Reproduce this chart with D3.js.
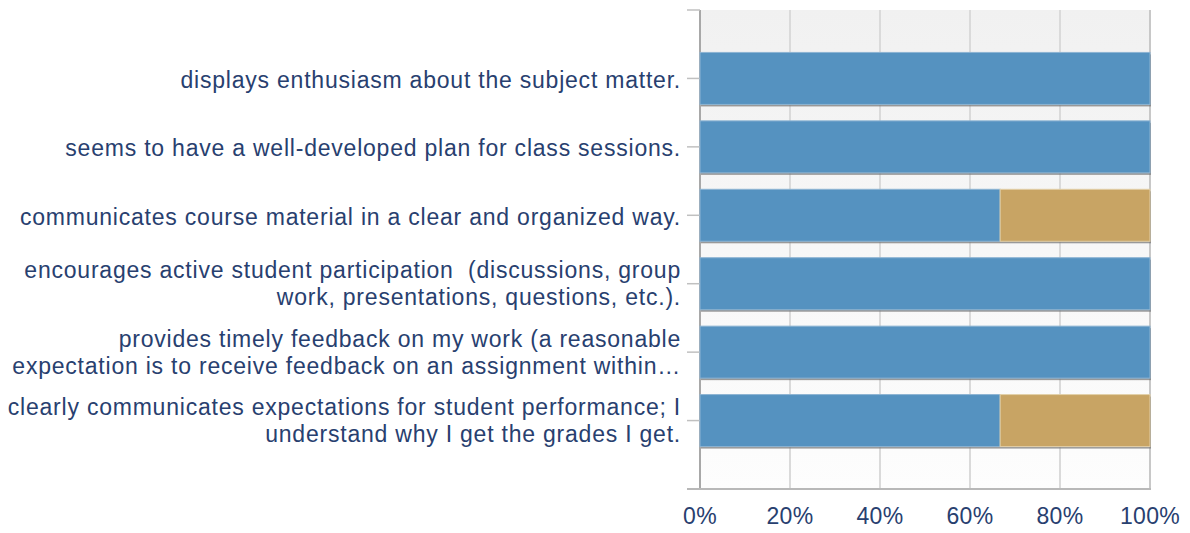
<!DOCTYPE html>
<html>
<head>
<meta charset="utf-8">
<script src="https://cdn.jsdelivr.net/npm/d3@7"></script>
<style>
  body { margin: 0; background: #fff; }
  #viz { width: 1190px; height: 533px; }
  text { font-family: "Liberation Sans", Arial, sans-serif; white-space: pre; }
</style>
</head>
<body>
<div id="viz"></div>
<script>
//Datos
const categories = [
    ['displays enthusiasm about the subject matter.'],
    ['seems to have a well-developed plan for class sessions.'],
    ['communicates course material in a clear and organized way.'],
    ['encourages active student participation  (discussions, group', 'work, presentations, questions, etc.).'],
    ['provides timely feedback on my work (a reasonable', 'expectation is to receive feedback on an assignment within\u2026'],
    ['clearly communicates expectations for student performance; I', 'understand why I get the grades I get.']
];
const seriesA = [100, 100, 66.7, 100, 100, 66.7];
const seriesB = [0, 0, 33.3, 0, 0, 33.3];
const tickValues = [0, 20, 40, 60, 80, 100];

//Colores
const COLOR_A = '#5592c0', COLOR_B = '#c8a464', COLOR_TEXT = '#28406f';

let margin = {top: 10, right: 40, bottom: 44, left: 700},
    width = 1190 - margin.left - margin.right,
    height = 533 - margin.top - margin.bottom;

let svg = d3.select('#viz').append('svg')
    .attr('width', 1190).attr('height', 533)
  .append('g')
    .attr('transform', 'translate(' + margin.left + ',' + margin.top + ')');

let x = d3.scaleLinear().domain([0, 100]).range([0, width]);
// puntos: un hueco arriba y otro abajo
let y = d3.scalePoint().domain(d3.range(-1, categories.length + 1)).range([0, height]);
let step = y.step(), barH = step * 0.76;

let defs = svg.append('defs');
let grad = defs.append('linearGradient').attr('id', 'bg').attr('x1', 0).attr('x2', 0).attr('y1', 0).attr('y2', 1);
grad.append('stop').attr('offset', '0%').attr('stop-color', '#f1f1f1');
grad.append('stop').attr('offset', '100%').attr('stop-color', '#fdfdfd');

svg.append('rect').attr('width', width).attr('height', height).attr('fill', 'url(#bg)');

//Grid
svg.selectAll('.grid').data(tickValues).enter().append('line')
    .attr('x1', d => x(d)).attr('x2', d => x(d))
    .attr('y1', 0).attr('y2', height)
    .attr('stroke', d => d == 0 ? '#a8a8a8' : (d == 100 ? '#c8c8c8' : '#dadada'))
    .attr('stroke-width', 2);

//Eje Y ticks
svg.selectAll('.ytick').data(y.domain()).enter().append('line')
    .attr('x1', -13).attr('x2', 0)
    .attr('y1', d => y(d)).attr('y2', d => y(d))
    .attr('stroke', '#c0c0c0').attr('stroke-width', 1.5);

//Eje X
svg.append('line').attr('x1', -13).attr('x2', width + 1)
    .attr('y1', height).attr('y2', height)
    .attr('stroke', '#b8b8b8').attr('stroke-width', 2);

svg.append('g').selectAll('text').data(tickValues).enter().append('text')
    .attr('x', d => x(d)).attr('y', height + 35)
    .attr('text-anchor', 'middle')
    .attr('fill', COLOR_TEXT).attr('font-size', 23)
    .attr('letter-spacing', 0.3)
    .text(d => d + '%');

//Barras
let rows = categories.map((c, i) => ({i: i, a: seriesA[i], b: seriesB[i]}));

let g = svg.selectAll('.row').data(rows).enter().append('g')
    .attr('transform', d => 'translate(0,' + (y(d.i) - barH / 2) + ')');

g.append('rect').attr('x', 1).attr('y', 2)
    .attr('width', d => x(d.a + d.b)).attr('height', barH)
    .attr('fill', '#7a7a7a').attr('opacity', 0.75);

g.append('rect').attr('x', 0).attr('y', 0)
    .attr('width', d => x(d.a)).attr('height', barH)
    .attr('fill', COLOR_A).attr('stroke', '#8db4d3').attr('stroke-width', 1);

g.filter(d => d.b > 0).append('rect')
    .attr('x', d => x(d.a)).attr('y', 0)
    .attr('width', d => x(d.b)).attr('height', barH)
    .attr('fill', COLOR_B).attr('stroke', '#e2cfa8').attr('stroke-width', 1);

//Etiquetas
let lh = 27;
svg.selectAll('.lbl').data(categories).enter().append('text')
    .attr('text-anchor', 'end')
    .attr('fill', COLOR_TEXT).attr('font-size', 23)
    .attr('letter-spacing', 0.78)
    .each(function(lines, i) {
        let t = d3.select(this);
        let y0 = y(i) - (lines.length - 1) * lh / 2 + (lines.length > 1 ? 8 : 9.5);
        lines.forEach((l, k) => {
            t.append('tspan').attr('x', -19).attr('y', y0 + k * lh).text(l);
        });
    });
</script>
</body>
</html>
